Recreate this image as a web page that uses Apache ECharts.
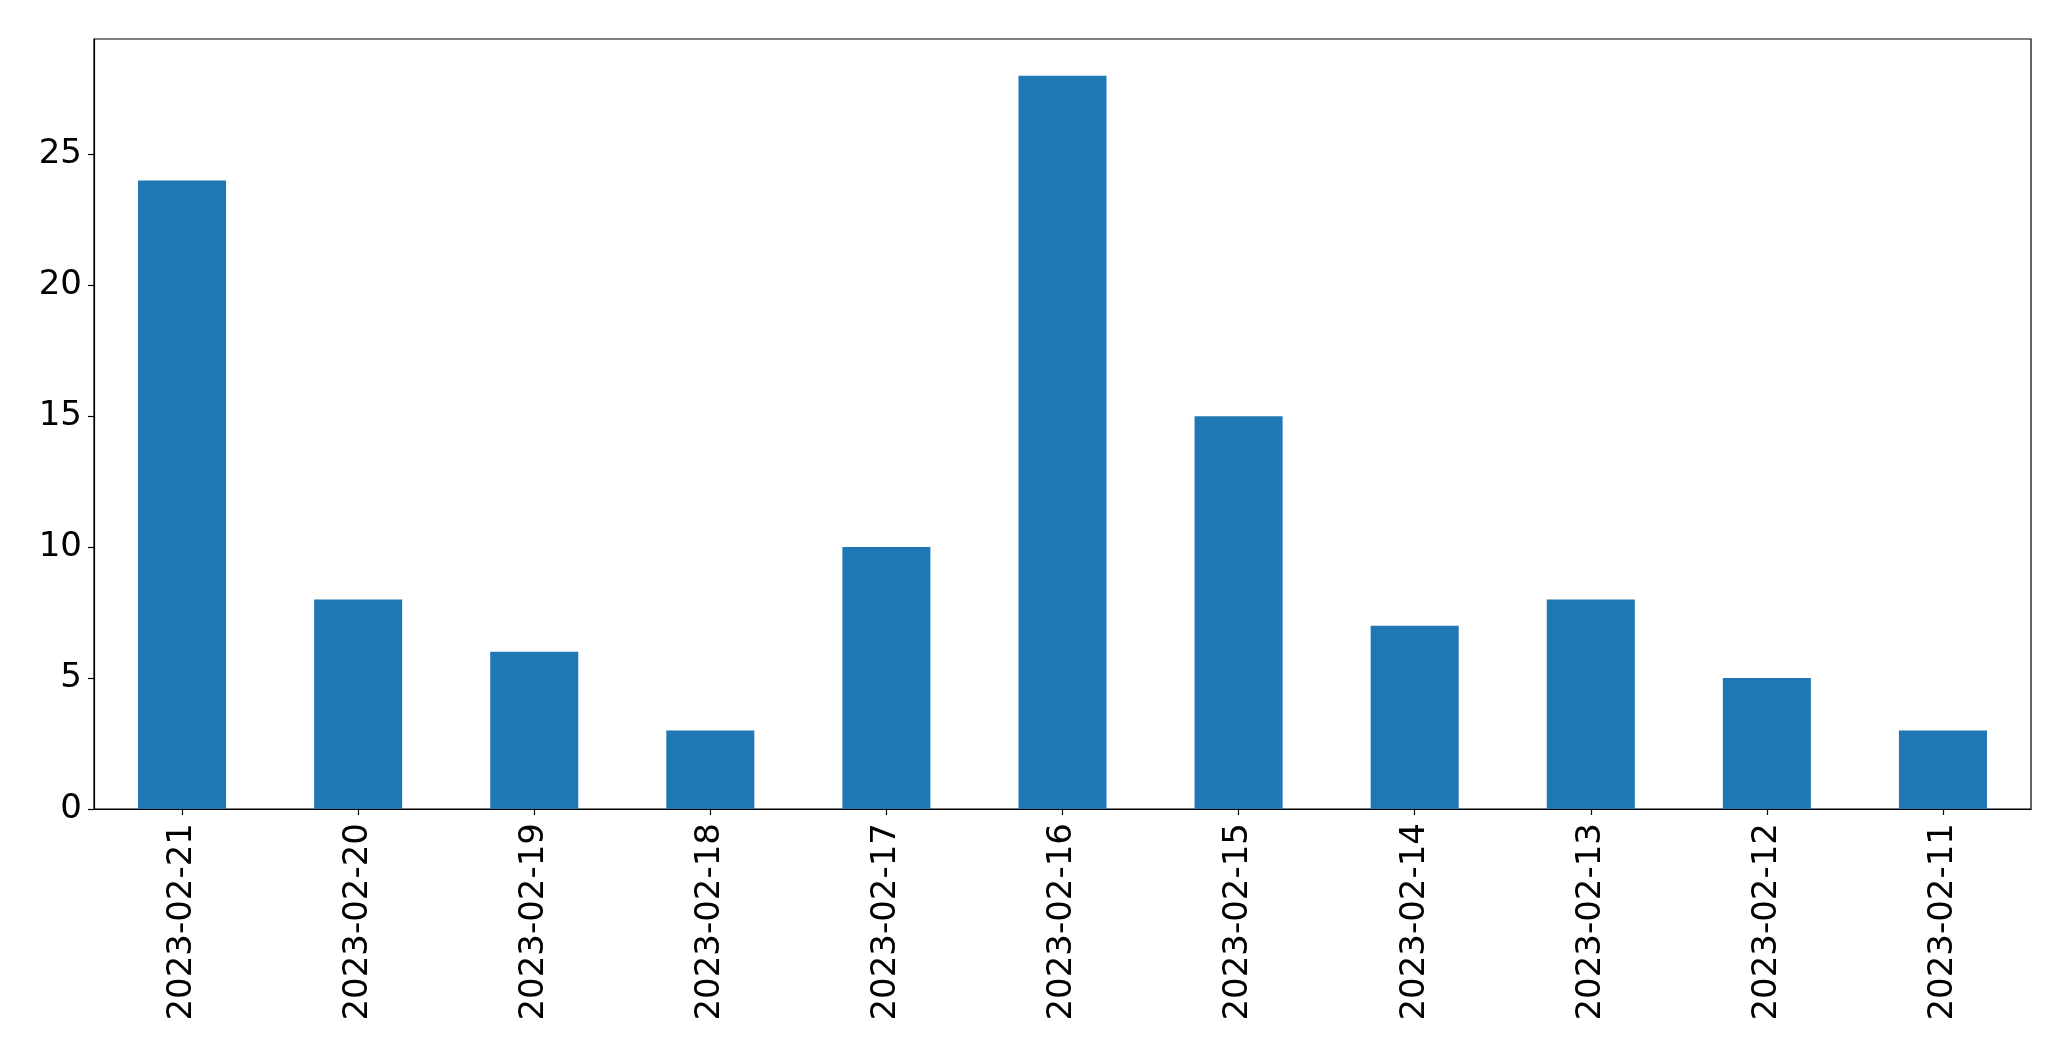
<!DOCTYPE html>
<html><head><meta charset="utf-8">
<script src="https://cdn.jsdelivr.net/npm/echarts@6/dist/echarts.min.js"></script>
<style>html,body{margin:0;padding:0;background:#fff}#c{width:2071px;height:1061px}</style>
</head><body><div id="c"></div>
<script>
const categories = ['2023-02-21','2023-02-20','2023-02-19','2023-02-18','2023-02-17','2023-02-16','2023-02-15','2023-02-14','2023-02-13','2023-02-12','2023-02-11'];
const values = [24, 8, 6, 3, 10, 28, 15, 7, 8, 5, 3];
const yTicks = [0, 5, 10, 15, 20, 25];
const yMax = 29.4;

const chart = echarts.init(document.getElementById('c'), null, {renderer: 'canvas'});
const font = 'DejaVu Sans';
chart.setOption({
  animation: false,
  backgroundColor: '#fff',
  grid: {left: 94, right: 40, top: 39, bottom: 252, show: true, borderColor: '#000', borderWidth: 1.2, backgroundColor: 'transparent'},
  xAxis: {
    type: 'category', data: categories, boundaryGap: true,
    axisLine: {show: true, lineStyle: {color: '#000', width: 1.2}},
    axisTick: {show: true, alignWithLabel: true, length: 6, lineStyle: {color: '#000', width: 1.2}},
    axisLabel: {rotate: 90, margin: 14, color: '#000', fontSize: 34, fontFamily: font, interval: 0},
    splitLine: {show: false}
  },
  yAxis: {
    type: 'value', min: 0, max: yMax,
    axisLine: {show: true, lineStyle: {color: '#000', width: 1.2}},
    axisTick: {show: true, length: 6, customValues: yTicks, lineStyle: {color: '#000', width: 1.2}},
    axisLabel: {margin: 12, color: '#000', fontSize: 34, fontFamily: font, customValues: yTicks},
    splitLine: {show: false}
  },
  series: [{
    type: 'bar', data: values, barWidth: '50%',
    itemStyle: {color: '#1f77b4'}
  }]
});
</script></body></html>
